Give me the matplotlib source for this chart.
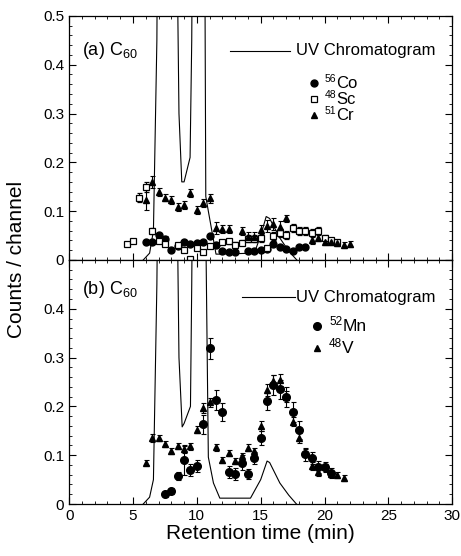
import numpy as np
import matplotlib
matplotlib.use('Agg')
import matplotlib.pyplot as plt
from matplotlib.ticker import MultipleLocator

plt.rcParams['font.family'] = ['Liberation Sans', 'DejaVu Sans']
plt.rcParams['mathtext.fontset'] = 'custom'
plt.rcParams['mathtext.rm'] = 'Liberation Sans'
plt.rcParams['mathtext.it'] = 'Liberation Sans:italic'

#################
### data (a)  ###
#################
uv_a_t = [5.8, 6.3, 6.6, 6.87, 6.95, 8.38, 8.6, 8.82, 9.0, 9.47, 9.6, 9.68, 10.6, 10.7, 10.9, 11.5, 11.7, 14.5, 15.0, 15.43, 15.7, 16.5, 17.2, 17.83]
uv_a_v = [0.0, 0.014, 0.06, 0.45, 0.8, 0.8, 0.3, 0.16, 0.16, 0.21, 0.45, 0.8, 0.8, 0.13, 0.10, 0.012, 0.012, 0.014, 0.05, 0.089, 0.085, 0.045, 0.018, 0.0]

co_t = [6.0, 6.5, 7.0, 7.5, 8.0, 8.5, 9.0, 9.5, 10.0, 10.5, 11.0, 11.5, 12.0, 12.5, 13.0, 14.0, 14.5, 15.0, 15.5, 16.0, 16.5, 17.0, 17.5, 18.0, 18.5]
co_v = [0.036, 0.036, 0.051, 0.044, 0.020, 0.029, 0.036, 0.033, 0.034, 0.036, 0.050, 0.031, 0.018, 0.016, 0.016, 0.018, 0.018, 0.020, 0.022, 0.033, 0.026, 0.022, 0.018, 0.026, 0.026]
co_e = [0.004, 0.004, 0.005, 0.005, 0.004, 0.004, 0.004, 0.004, 0.004, 0.004, 0.005, 0.004, 0.004, 0.004, 0.004, 0.004, 0.004, 0.004, 0.004, 0.005, 0.004, 0.004, 0.004, 0.004, 0.004]

sc_t = [4.5, 5.0, 5.5, 6.0, 6.5, 7.0, 7.5, 8.5, 9.0, 9.5, 10.0, 10.5, 11.0, 12.0, 12.5, 13.0, 13.5, 14.0, 14.5, 15.0, 15.5, 16.0, 16.5, 17.0, 17.5, 18.0, 18.5, 19.0, 19.5, 20.0, 20.5, 21.0]
sc_v = [0.033, 0.039, 0.128, 0.150, 0.059, 0.039, 0.032, 0.031, 0.020, 0.001, 0.025, 0.016, 0.029, 0.036, 0.038, 0.031, 0.035, 0.044, 0.044, 0.045, 0.024, 0.049, 0.056, 0.052, 0.065, 0.059, 0.059, 0.056, 0.059, 0.045, 0.040, 0.036]
sc_e = [0.004, 0.004, 0.010, 0.010, 0.006, 0.004, 0.004, 0.004, 0.004, 0.003, 0.004, 0.004, 0.004, 0.004, 0.005, 0.005, 0.005, 0.008, 0.008, 0.008, 0.005, 0.008, 0.008, 0.008, 0.008, 0.008, 0.008, 0.008, 0.008, 0.007, 0.006, 0.005]

cr_t = [6.0, 6.5, 7.0, 7.5, 8.0, 8.5, 9.0, 9.5, 10.0, 10.5, 11.0, 11.5, 12.0, 12.5, 13.5, 14.0, 14.5, 15.0, 15.5, 16.0, 16.5, 17.0, 19.0, 19.5, 20.0, 20.5, 21.0, 21.5, 22.0]
cr_v = [0.123, 0.160, 0.140, 0.128, 0.123, 0.109, 0.113, 0.137, 0.102, 0.117, 0.126, 0.066, 0.064, 0.064, 0.059, 0.048, 0.048, 0.061, 0.070, 0.073, 0.068, 0.085, 0.041, 0.046, 0.036, 0.037, 0.034, 0.031, 0.033]
cr_e = [0.020, 0.012, 0.008, 0.008, 0.008, 0.008, 0.008, 0.008, 0.008, 0.008, 0.010, 0.012, 0.008, 0.008, 0.008, 0.010, 0.010, 0.010, 0.012, 0.012, 0.012, 0.008, 0.008, 0.008, 0.006, 0.006, 0.006, 0.006, 0.006]

#################
### data (b)  ###
#################
uv_b_t = [5.8, 6.3, 6.6, 6.87, 7.0, 8.38, 8.6, 8.85, 9.0, 9.5, 9.6, 9.7, 10.6, 10.9, 11.3, 11.8, 14.2, 15.0, 15.5, 15.7, 16.5, 17.2, 17.8]
uv_b_v = [0.0, 0.014, 0.05, 0.45, 0.8, 0.8, 0.3, 0.158, 0.165, 0.2, 0.45, 0.8, 0.8, 0.096, 0.043, 0.012, 0.012, 0.05, 0.088, 0.085, 0.043, 0.018, 0.0]

mn_t = [7.5, 8.0, 8.5, 9.0, 9.5, 10.0, 10.5, 11.0, 11.5, 12.0, 12.5, 13.0, 13.5, 14.0, 14.5, 15.0, 15.5, 16.0, 16.5, 17.0, 17.5, 18.0, 18.5, 19.0, 19.5, 20.0, 20.5]
mn_v = [0.020, 0.027, 0.057, 0.090, 0.070, 0.078, 0.163, 0.319, 0.213, 0.188, 0.066, 0.061, 0.085, 0.061, 0.094, 0.135, 0.210, 0.244, 0.235, 0.219, 0.189, 0.152, 0.102, 0.094, 0.076, 0.076, 0.064]
mn_e = [0.006, 0.006, 0.008, 0.030, 0.012, 0.012, 0.020, 0.022, 0.020, 0.018, 0.012, 0.012, 0.015, 0.010, 0.012, 0.015, 0.018, 0.020, 0.020, 0.020, 0.020, 0.018, 0.013, 0.013, 0.012, 0.010, 0.010]

v_t = [6.0, 6.5, 7.0, 7.5, 8.0, 8.5, 9.0, 9.5, 10.0, 10.5, 11.0, 11.5, 12.0, 12.5, 13.0, 13.5, 14.0, 14.5, 15.0, 15.5, 16.0, 16.5, 17.0, 17.5, 18.0, 18.5, 19.0, 19.5, 20.0, 20.5, 21.0, 21.5]
v_v = [0.085, 0.136, 0.135, 0.123, 0.109, 0.119, 0.112, 0.118, 0.152, 0.196, 0.208, 0.116, 0.090, 0.105, 0.088, 0.098, 0.115, 0.108, 0.160, 0.234, 0.252, 0.254, 0.220, 0.169, 0.136, 0.105, 0.078, 0.065, 0.075, 0.061, 0.059, 0.054]
v_e = [0.006, 0.008, 0.006, 0.007, 0.006, 0.006, 0.007, 0.007, 0.007, 0.010, 0.010, 0.007, 0.006, 0.006, 0.006, 0.007, 0.007, 0.007, 0.010, 0.012, 0.012, 0.012, 0.012, 0.010, 0.010, 0.008, 0.008, 0.007, 0.007, 0.006, 0.006, 0.006]

# legend labels: (mass number, element)
iso_a = [('56', 'Co'), ('48', 'Sc'), ('51', 'Cr')]
iso_b = [('52', 'Mn'), ('48', 'V')]


def iso_label(ax, x, y, mass, elem, size, supsize):
    # mass number as a small raised text, element symbol after it
    ax.text(x, y + 0.018, mass, transform=ax.transAxes, fontsize=supsize, ha='right', va='center')
    ax.text(x, y, elem, transform=ax.transAxes, fontsize=size, ha='left', va='center')


fig = plt.figure(figsize=(4.61, 5.56), dpi=100)
ax_a = fig.add_axes([0.150, 0.5324, 0.831, 0.439])
ax_b = fig.add_axes([0.150, 0.0935, 0.831, 0.439])

eb = dict(ecolor='k', elinewidth=0.8, capsize=1.8, capthick=0.8, linestyle='none')

for ax in (ax_a, ax_b):
    ax.set_xlim(0, 30)
    ax.set_ylim(0, 0.5)
    ax.xaxis.set_major_locator(MultipleLocator(5))
    ax.xaxis.set_minor_locator(MultipleLocator(1))
    ax.yaxis.set_major_locator(MultipleLocator(0.1))
    ax.yaxis.set_minor_locator(MultipleLocator(0.02))
    ax.tick_params(which='both', direction='in', top=True, right=True, labelsize=11)
    ax.tick_params(which='major', length=5, width=0.8)
    ax.tick_params(which='minor', length=2.5, width=0.6)
    for s in ax.spines.values():
        s.set_linewidth(0.9)

# panel (a)
ax_a.plot(uv_a_t, uv_a_v, '-', c='k', lw=0.8)
ax_a.errorbar(co_t, co_v, yerr=co_e, fmt='o', mfc='k', mec='k', ms=5, **eb)
ax_a.errorbar(sc_t, sc_v, yerr=sc_e, fmt='s', mfc='white', mec='k', ms=4.5, mew=0.9, clip_on=False, **eb)
ax_a.errorbar(cr_t, cr_v, yerr=cr_e, fmt='^', mfc='k', mec='k', ms=4.5, **eb)
ax_a.set_yticks([0, 0.1, 0.2, 0.3, 0.4, 0.5])
ax_a.set_yticklabels(['0', '0.1', '0.2', '0.3', '0.4', '0.5'])
ax_a.tick_params(labelbottom=False)
ax_a.text(0.034, 0.86, '(a) C$_{60}$', transform=ax_a.transAxes, fontsize=13, va='center')

# legend (a)
ax_a.plot([0.42, 0.577], [0.857, 0.857], '-', c='k', lw=0.8, transform=ax_a.transAxes)
ax_a.text(0.592, 0.857, 'UV Chromatogram', transform=ax_a.transAxes, fontsize=12, va='center')
ax_a.plot([0.64], [0.725], 'o', c='k', ms=5, transform=ax_a.transAxes)
ax_a.plot([0.64], [0.66], 's', mfc='white', mec='k', ms=4.5, mew=0.9, transform=ax_a.transAxes)
ax_a.plot([0.64], [0.594], '^', c='k', ms=4.5, transform=ax_a.transAxes)
for (mass, elem), y in zip(iso_a, [0.722, 0.657, 0.591]):
    iso_label(ax_a, 0.698, y, mass, elem, 12, 7.5)

# panel (b)
ax_b.plot(uv_b_t, uv_b_v, '-', c='k', lw=0.8)
ax_b.errorbar(mn_t, mn_v, yerr=mn_e, fmt='o', mfc='k', mec='k', ms=5.5, **eb)
ax_b.errorbar(v_t, v_v, yerr=v_e, fmt='^', mfc='k', mec='k', ms=4.5, **eb)
ax_b.set_yticks([0, 0.1, 0.2, 0.3, 0.4, 0.5])
ax_b.set_yticklabels(['0', '0.1', '0.2', '0.3', '0.4', ''])
ax_b.set_xticks([0, 5, 10, 15, 20, 25, 30])
ax_b.text(0.034, 0.88, '(b) C$_{60}$', transform=ax_b.transAxes, fontsize=13, va='center')

# legend (b)
ax_b.plot([0.452, 0.59], [0.848, 0.848], '-', c='k', lw=0.8, transform=ax_b.transAxes)
ax_b.text(0.593, 0.848, 'UV Chromatogram', transform=ax_b.transAxes, fontsize=12, va='center')
ax_b.plot([0.648], [0.73], 'o', c='k', ms=5.5, transform=ax_b.transAxes)
ax_b.plot([0.648], [0.64], '^', c='k', ms=4.5, transform=ax_b.transAxes)
for (mass, elem), y in zip(iso_b, [0.727, 0.637]):
    iso_label(ax_b, 0.713, y, mass, elem, 12.5, 8.5)

ax_b.set_xlabel('Retention time (min)', fontsize=15, labelpad=1)
fig.text(0.035, 0.533, 'Counts / channel', rotation=90, fontsize=15, ha='center', va='center')

fig.savefig('out.png', dpi=100)
